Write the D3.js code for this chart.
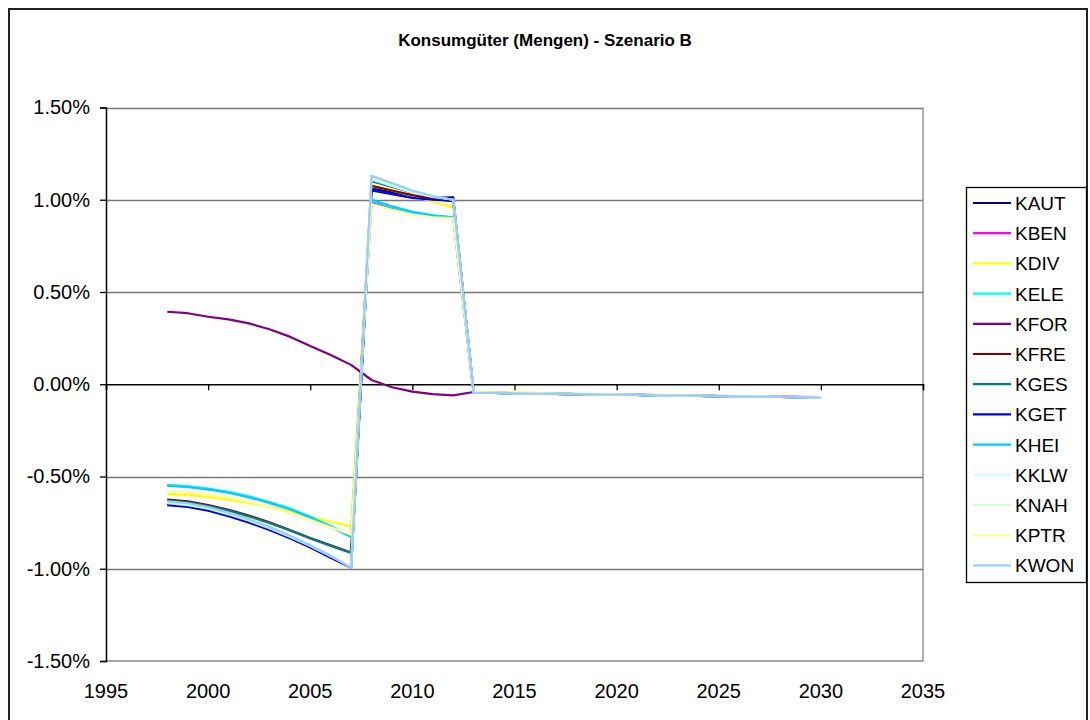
<!DOCTYPE html>
<html>
<head>
<meta charset="utf-8">
<script src="https://cdn.jsdelivr.net/npm/d3@7"></script>
<style>
  body { margin: 0; background: #fff; }
  text { font-family: "Liberation Sans", Arial, sans-serif; fill: #000; }
</style>
</head>
<body>
<div id="chart"></div>
<script>
// years 1998 .. 2030
var years = d3.range(1998, 2031);

var seriesNames = ["KAUT","KBEN","KDIV","KELE","KFOR","KFRE","KGES","KGET","KHEI","KKLW","KNAH","KPTR","KWON"];
var seriesColors = ["#000080","#FF00FF","#FFFF00","#00FFFF","#800080","#800000","#008080","#0000FF","#00CCFF","#CCFFFF","#CCFFCC","#FFFF99","#99CCFF"];

// values in percent, 1998..2030
var KAUT = [-0.650,-0.660,-0.680,-0.710,-0.745,-0.785,-0.830,-0.880,-0.935,-0.990, 1.060,1.040,1.020,1.010,1.013, -0.045,-0.047,-0.049,-0.051,-0.052,-0.054,-0.055,-0.057,-0.058,-0.060,-0.061,-0.063,-0.064,-0.066,-0.067,-0.069,-0.070,-0.072];
var KBEN = [-0.548,-0.555,-0.568,-0.585,-0.610,-0.640,-0.675,-0.720,-0.770,-0.825, 0.990,0.955,0.930,0.910,0.905, -0.044,-0.046,-0.048,-0.050,-0.051,-0.053,-0.054,-0.056,-0.057,-0.059,-0.060,-0.061,-0.063,-0.064,-0.065,-0.067,-0.068,-0.069];
var KDIV = [-0.595,-0.600,-0.610,-0.625,-0.645,-0.665,-0.690,-0.718,-0.745,-0.770, 1.080,1.050,1.020,0.990,0.960, -0.040,-0.043,-0.045,-0.047,-0.049,-0.051,-0.053,-0.055,-0.056,-0.058,-0.060,-0.061,-0.063,-0.064,-0.066,-0.067,-0.069,-0.070];
var KELE = [-0.545,-0.552,-0.565,-0.583,-0.608,-0.638,-0.673,-0.718,-0.768,-0.822, 0.995,0.960,0.930,0.912,0.905, -0.045,-0.047,-0.049,-0.051,-0.052,-0.054,-0.055,-0.057,-0.058,-0.060,-0.061,-0.063,-0.064,-0.066,-0.067,-0.069,-0.070,-0.072];
var KFOR = [0.393,0.385,0.366,0.352,0.330,0.298,0.258,0.207,0.159,0.105, 0.023,-0.016,-0.040,-0.054,-0.060, -0.042,-0.046,-0.048,-0.050,-0.052,-0.053,-0.055,-0.056,-0.058,-0.059,-0.061,-0.062,-0.064,-0.065,-0.067,-0.068,-0.069,-0.071];
var KFRE = [-0.625,-0.635,-0.655,-0.680,-0.712,-0.748,-0.790,-0.833,-0.873,-0.912, 1.075,1.050,1.025,1.005,0.993, -0.045,-0.047,-0.049,-0.051,-0.052,-0.054,-0.055,-0.057,-0.058,-0.060,-0.061,-0.063,-0.064,-0.066,-0.067,-0.069,-0.070,-0.072];
var KGES = [-0.630,-0.640,-0.660,-0.685,-0.716,-0.752,-0.793,-0.836,-0.876,-0.915, 1.100,1.070,1.040,1.015,1.000, -0.045,-0.047,-0.049,-0.051,-0.052,-0.054,-0.055,-0.057,-0.058,-0.060,-0.061,-0.063,-0.064,-0.066,-0.067,-0.069,-0.070,-0.072];
var KGET = [-0.655,-0.665,-0.685,-0.715,-0.750,-0.790,-0.835,-0.885,-0.940,-0.995, 1.050,1.030,1.010,1.000,0.995, -0.045,-0.047,-0.049,-0.051,-0.052,-0.054,-0.055,-0.057,-0.058,-0.060,-0.061,-0.063,-0.064,-0.066,-0.067,-0.069,-0.070,-0.072];
var KHEI = [-0.550,-0.557,-0.570,-0.588,-0.613,-0.643,-0.678,-0.722,-0.772,-0.828, 1.000,0.965,0.935,0.915,0.905, -0.045,-0.047,-0.049,-0.051,-0.052,-0.054,-0.055,-0.057,-0.058,-0.060,-0.061,-0.063,-0.064,-0.066,-0.067,-0.069,-0.070,-0.072];
var KKLW = [-0.640,-0.650,-0.670,-0.700,-0.735,-0.776,-0.822,-0.873,-0.930,-0.990, 1.110,1.075,1.040,1.015,1.000, -0.045,-0.047,-0.049,-0.051,-0.052,-0.054,-0.055,-0.057,-0.058,-0.060,-0.061,-0.063,-0.064,-0.066,-0.067,-0.069,-0.070,-0.072];
var KNAH = [-0.645,-0.655,-0.675,-0.705,-0.740,-0.780,-0.826,-0.877,-0.933,-0.988, 1.120,1.080,1.045,1.020,1.000, -0.045,-0.047,-0.049,-0.051,-0.052,-0.054,-0.055,-0.057,-0.058,-0.060,-0.061,-0.063,-0.064,-0.066,-0.067,-0.069,-0.070,-0.072];
var KPTR = [-0.580,-0.586,-0.598,-0.615,-0.638,-0.665,-0.697,-0.735,-0.775,-0.815, 0.975,0.945,0.920,0.905,0.900, -0.041,-0.044,-0.046,-0.048,-0.050,-0.052,-0.053,-0.055,-0.057,-0.058,-0.060,-0.062,-0.063,-0.065,-0.066,-0.068,-0.069,-0.071];
var KWON = [-0.635,-0.645,-0.666,-0.696,-0.732,-0.773,-0.820,-0.872,-0.930,-0.995, 1.130,1.090,1.050,1.020,1.000, -0.045,-0.047,-0.049,-0.051,-0.052,-0.054,-0.055,-0.057,-0.058,-0.060,-0.061,-0.063,-0.064,-0.066,-0.067,-0.069,-0.070,-0.073];

var seriesValues = [KAUT,KBEN,KDIV,KELE,KFOR,KFRE,KGES,KGET,KHEI,KKLW,KNAH,KPTR,KWON];

var xTicks = [1995,2000,2005,2010,2015,2020,2025,2030,2035];
var yTicks = [-1.5,-1.0,-0.5,0,0.5,1.0,1.5];
var title = "Konsumgüter (Mengen) - Szenario B";

var W = 1090, H = 720;
var plot = {left: 106, right: 923, top: 107.5, bottom: 661};

var svg = d3.select("#chart").append("svg")
	.attr("width", W)
	.attr("height", H);

// outer chart frame
svg.append("rect")
	.attr("x", 9).attr("y", 9)
	.attr("width", 1078).attr("height", 720)
	.attr("fill", "none")
	.attr("stroke", "#222")
	.attr("stroke-width", 2);

var x = d3.scaleLinear().domain([1995, 2035]).range([plot.left, plot.right]);
var y = d3.scaleLinear().domain([-1.5, 1.5]).range([plot.bottom, plot.top]);

//gridlines
svg.append("g").selectAll("line")
	.data(yTicks.filter(function(d){ return d !== 0 && d !== -1.5; }))
	.enter().append("line")
	.attr("x1", plot.left).attr("x2", plot.right)
	.attr("y1", function(d){ return Math.round(y(d)) + 0.5; })
	.attr("y2", function(d){ return Math.round(y(d)) + 0.5; })
	.attr("stroke", "#777")
	.attr("stroke-width", 1.3);

// plot area border (right / bottom)
svg.append("path")
	.attr("d", "M" + plot.right + "," + plot.top + "V" + plot.bottom + "H" + plot.left)
	.attr("fill", "none")
	.attr("stroke", "#888")
	.attr("stroke-width", 1.3);

// y axis
var yAxis = d3.axisLeft(y)
	.tickValues(yTicks)
	.tickSize(6)
	.tickPadding(10)
	.tickFormat(function(d){ return d.toFixed(2) + "%"; });

var gy = svg.append("g")
	.attr("transform", "translate(" + plot.left + ",0)")
	.call(yAxis);
gy.select(".domain").attr("stroke", "#000").attr("stroke-width", 1.5);
gy.selectAll(".tick line").attr("stroke", "#000").attr("stroke-width", 1.3);
gy.selectAll("text").style("font-size", "20px").style("font-family", "Liberation Sans, Arial, sans-serif");

// x axis crosses at zero, labels at bottom
var xAxis = d3.axisBottom(x)
	.tickValues(xTicks)
	.tickSize(6)
	.tickFormat("");
var gx = svg.append("g")
	.attr("transform", "translate(0," + y(0) + ")")
	.call(xAxis);
gx.select(".domain").attr("stroke", "#000").attr("stroke-width", 1.5);
gx.selectAll(".tick line").attr("stroke", "#000").attr("stroke-width", 1.3);

svg.append("g").selectAll("text")
	.data(xTicks)
	.enter().append("text")
	.attr("x", function(d){ return x(d); })
	.attr("y", 698)
	.attr("text-anchor", "middle")
	.style("font-size", "20px")
	.text(function(d){ return d; });

// lines
var line = d3.line()
	.x(function(d, i){ return x(years[i]); })
	.y(function(d){ return y(d); });

svg.append("g").selectAll("path")
	.data(seriesValues)
	.enter().append("path")
	.attr("d", line)
	.attr("fill", "none")
	.attr("stroke", function(d, i){ return seriesColors[i]; })
	.attr("stroke-width", 2.2)
	.attr("stroke-linejoin", "round");

// title
svg.append("text")
	.attr("x", 545)
	.attr("y", 46)
	.attr("text-anchor", "middle")
	.style("font-size", "17px")
	.style("font-weight", "bold")
	.text(title);

// legend
var legend = svg.append("g");
legend.append("rect")
	.attr("x", 966.5).attr("y", 187.5)
	.attr("width", 120).attr("height", 395)
	.attr("fill", "#fff")
	.attr("stroke", "#000")
	.attr("stroke-width", 1.3);

var items = legend.selectAll("g.item")
	.data(seriesNames)
	.enter().append("g")
	.attr("class", "item")
	.attr("transform", function(d, i){ return "translate(0," + (203 + i * 30.2) + ")"; });
items.append("line")
	.attr("x1", 973).attr("x2", 1011)
	.attr("stroke", function(d, i){ return seriesColors[i]; })
	.attr("stroke-width", 2.2);
items.append("text")
	.attr("x", 1015)
	.attr("y", 7)
	.style("font-size", "19px")
	.text(function(d){ return d; });
</script>
</body>
</html>
